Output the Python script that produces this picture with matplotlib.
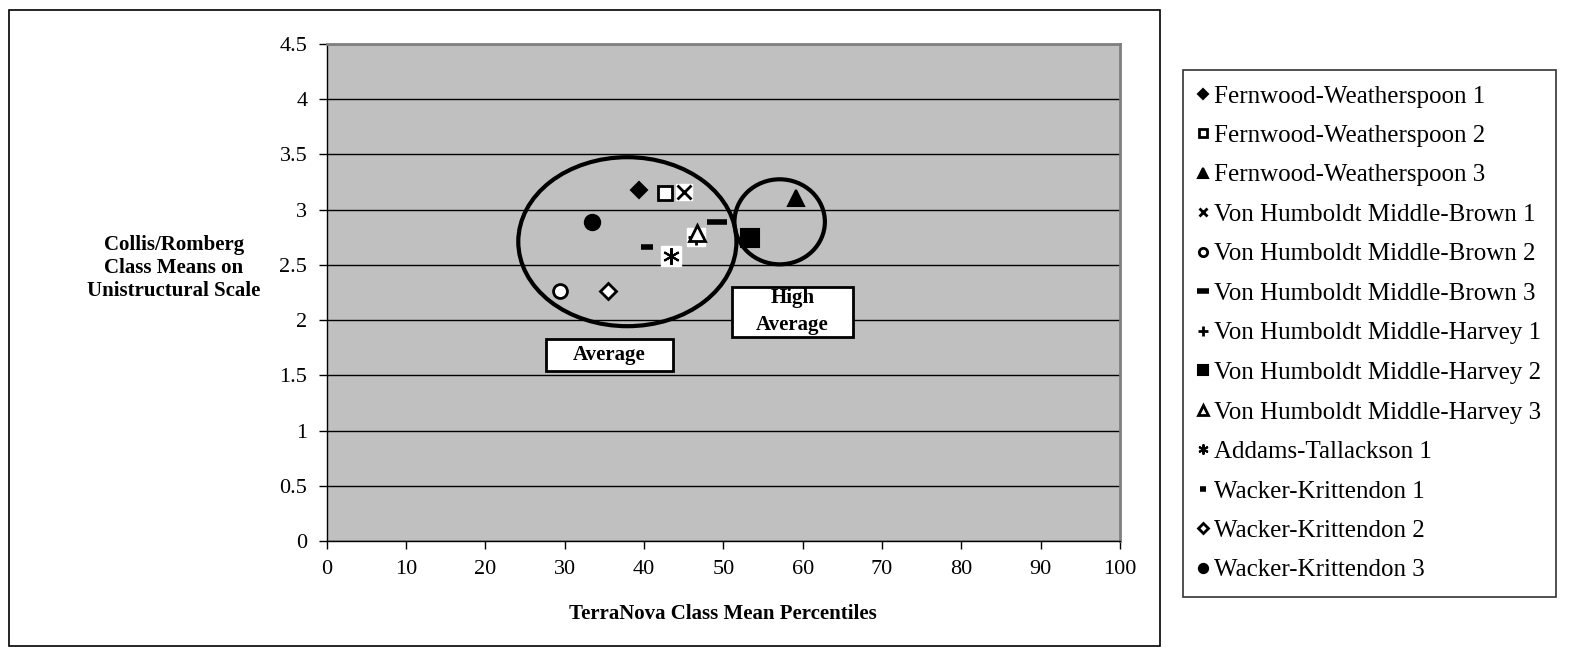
import matplotlib
matplotlib.use("Agg")
import matplotlib.pyplot as plt
from matplotlib.patches import Ellipse, Rectangle

plt.rcParams['font.family'] = ['Liberation Serif', 'DejaVu Serif']

# class mean percentile (x) vs unistructural class mean (y)
names = ["Fernwood-Weatherspoon 1", "Fernwood-Weatherspoon 2", "Fernwood-Weatherspoon 3",
         "Von Humboldt Middle-Brown 1", "Von Humboldt Middle-Brown 2", "Von Humboldt Middle-Brown 3",
         "Von Humboldt Middle-Harvey 1", "Von Humboldt Middle-Harvey 2", "Von Humboldt Middle-Harvey 3",
         "Addams-Tallackson 1", "Wacker-Krittendon 1", "Wacker-Krittendon 2", "Wacker-Krittendon 3"]
percentiles = [39.4, 42.7, 59.2, 45.1, 29.4, 49.2, 46.5, 53.3, 46.7, 43.4, 40.4, 35.4, 33.5]
means = [3.18, 3.15, 3.11, 3.16, 2.26, 2.89, 2.75, 2.74, 2.79, 2.58, 2.66, 2.26, 2.89]

# marker, facecolor, size, edge width
styles = [
    ('D', 'black', 8, 1.5),
    ('s', 'white', 10, 2.0),
    ('^', 'black', 11, 1.5),
    ('x', 'none', 10, 2.0),
    ('o', 'white', 10, 2.0),
    ('_', 'none', 14, 4.0),
    ('+', 'none', 11, 2.0),
    ('s', 'black', 13, 1.5),
    ('^', 'white', 11, 2.0),
    ((6, 2, 0), 'none', 12, 1.5),
    ('_', 'none', 8, 4.0),
    ('D', 'white', 8, 2.0),
    ('o', 'black', 11, 1.5),
]
white_backed = {3, 6, 9}

fig = plt.figure(figsize=(15.72, 6.48), dpi=100)
fig.patches.append(Rectangle((9 / 1572, 2 / 648), 1151 / 1572, 636 / 648,
                             transform=fig.transFigure, fill=False,
                             edgecolor='black', linewidth=1.2))

ax = fig.add_axes([326.7 / 1572, 1 - 541 / 648, (1120 - 326.7) / 1572, (541 - 44) / 648])
ax.set_facecolor('#c0c0c0')
ax.set_xlim(0, 100)
ax.set_ylim(0, 4.5)
ax.set_xticks(range(0, 101, 10))
ax.set_yticks([i * 0.5 for i in range(10)])
ax.set_yticklabels(['0', '0.5', '1', '1.5', '2', '2.5', '3', '3.5', '4', '4.5'])
ax.tick_params(labelsize=16, length=6, width=1, direction='out', pad=8)
ax.grid(axis='y', color='black', linewidth=1)
ax.set_axisbelow(True)
for s in ax.spines.values():
    s.set_color('#808080')
    s.set_linewidth(2)
ax.spines['left'].set_color('black')
ax.spines['bottom'].set_color('black')
ax.spines['left'].set_linewidth(1)
ax.spines['bottom'].set_linewidth(1)

handles = []
for i, (name, x, y) in enumerate(zip(names, percentiles, means)):
    m, fc, ms, mew = styles[i]
    if i in white_backed:
        ax.plot(x, y, marker='s', color='white', markersize=ms + 2, linestyle='none', zorder=3)
    h, = ax.plot(x, y, marker=m, markerfacecolor=fc, markeredgecolor='black',
                 markersize=ms, markeredgewidth=mew, linestyle='none', label=name, zorder=4)
    handles.append(h)

# groupings
ax.add_patch(Ellipse((37.9, 2.71), 27.5, 1.53, fill=False, edgecolor='black', linewidth=3, zorder=5))
ax.add_patch(Ellipse((57.1, 2.89), 11.4, 0.77, fill=False, edgecolor='black', linewidth=3, zorder=5))

# label boxes
ax.add_patch(Rectangle((27.64, 1.539), 16.0, 0.29, facecolor='white', edgecolor='black',
                       linewidth=2, zorder=6))
ax.text(35.64, 1.684, 'Average', ha='center', va='center', fontsize=15, fontweight='bold', zorder=7)
ax.add_patch(Rectangle((51.09, 1.847), 15.25, 0.453, facecolor='white', edgecolor='black',
                       linewidth=2, zorder=6))
ax.text(58.7, 2.08, 'High\nAverage', ha='center', va='center', fontsize=15, fontweight='bold',
        linespacing=1.45, zorder=7)

fig.text(174 / 1572, 1 - 268 / 648, 'Collis/Romberg\nClass Means on\nUnistructural Scale',
         ha='center', va='center', fontsize=15, fontweight='bold', linespacing=1.2)
ax.set_xlabel('TerraNova Class Mean Percentiles', fontsize=15, fontweight='bold', labelpad=18)

leg = fig.legend(handles=handles, loc='upper left', bbox_to_anchor=(1183 / 1572, 1 - 70 / 648),
                 fontsize=18, frameon=True, fancybox=False, markerscale=0.6,
                 handlelength=0.4, handletextpad=0.25, labelspacing=0.68, borderpad=0.6,
                 borderaxespad=0)
leg.get_frame().set_edgecolor('black')
leg.get_frame().set_linewidth(1.2)

fig.savefig('out.png', dpi=100, facecolor='white')
